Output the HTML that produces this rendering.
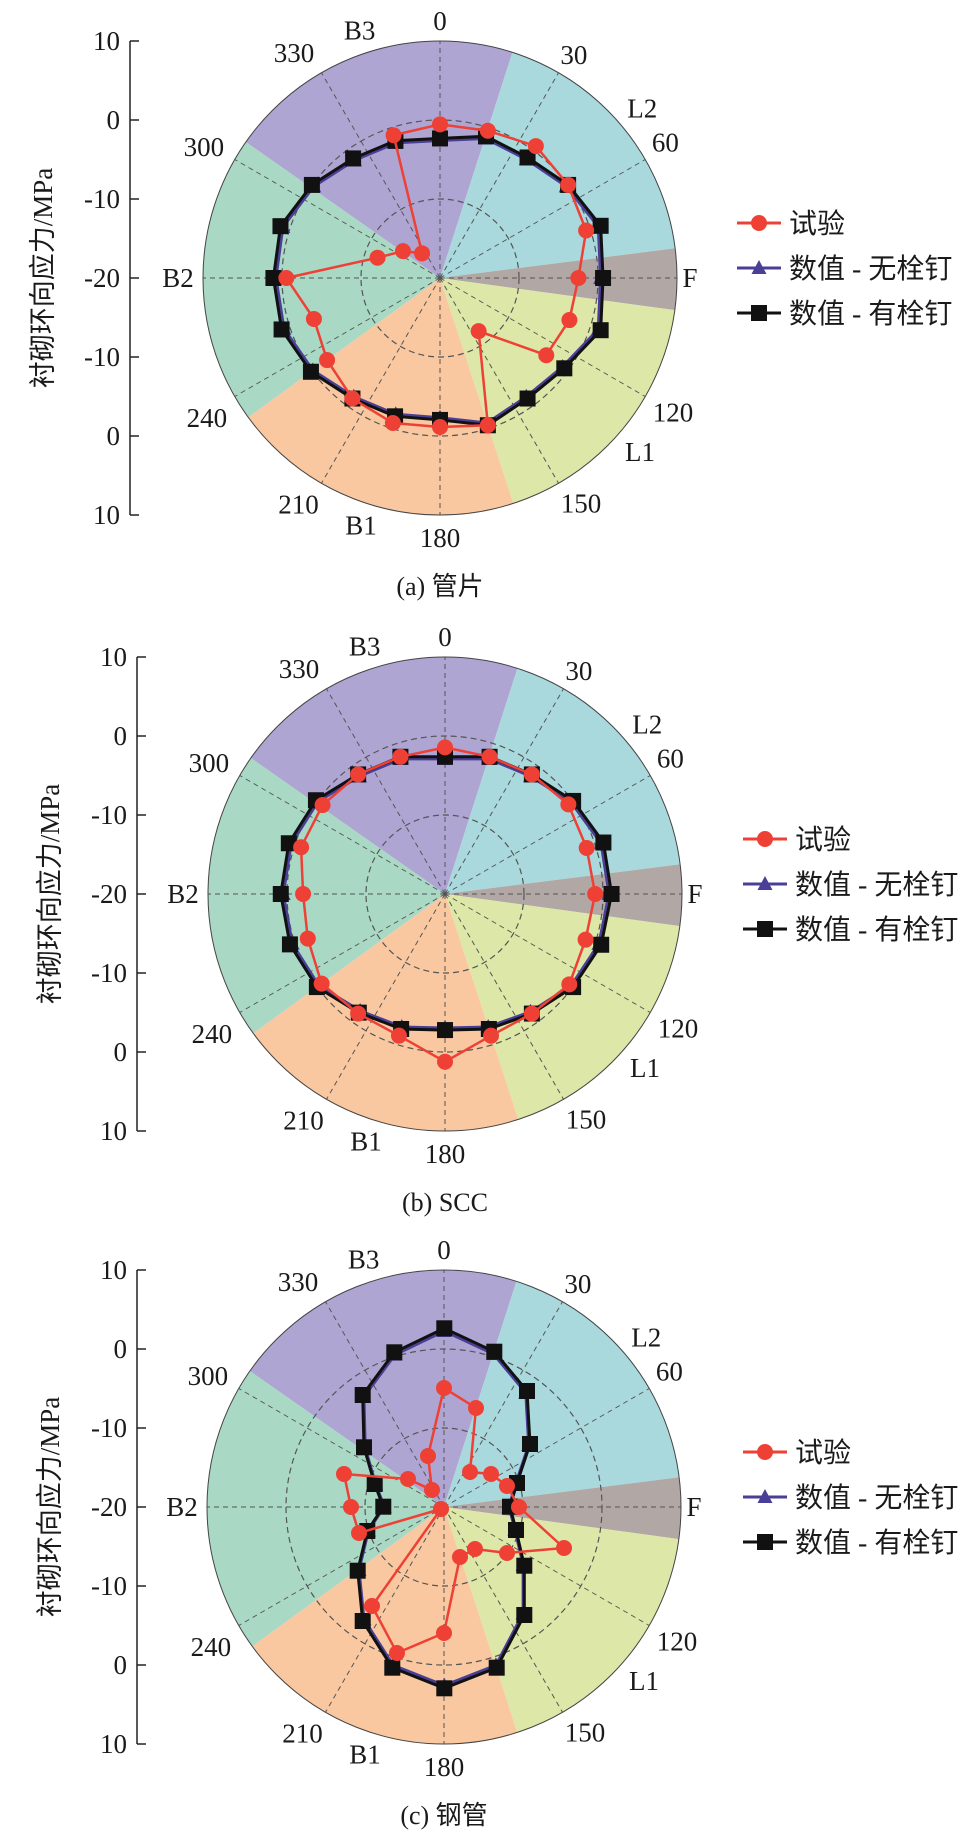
<!DOCTYPE html>
<html><head><meta charset="utf-8"><style>
html,body{margin:0;padding:0;background:#fff;}
svg text{font-family:"Liberation Serif","Noto Serif CJK SC",serif;fill:#1a1a1a;}
.cj{font-family:"Liberation Serif","Noto Sans CJK SC",sans-serif;}
</style></head><body>
<svg id="s" xmlns="http://www.w3.org/2000/svg" width="976" height="1834" viewBox="0 0 976 1834"></svg>
<script>
const S=document.getElementById('s');let h='';
const K=1.173;
function P(cx,cy,r,a){const t=a*Math.PI/180;return [cx+r*Math.sin(t),cy-r*Math.cos(t)];}
function chart(cx,cy,ax,black,red,blue,lblName,cap,legx){
  const R=237;
  const sec=[[305,377.8,'#afa5d3'],[17.8,82.8,'#a9d9dc'],[82.8,97.8,'#b1a7a5'],[97.8,162,'#dde7a8'],[162,234,'#f9c8a0'],[234,305,'#a9d8c4']];
  for(const [a1,a2,c] of sec){const p1=P(cx,cy,R,a1),p2=P(cx,cy,R,a2);
    h+=`<path d="M${cx},${cy}L${p1[0]},${p1[1]}A${R},${R} 0 0 1 ${p2[0]},${p2[1]}Z" fill="${c}"/>`;}
  for(let a=0;a<360;a+=30){const p=P(cx,cy,R,a);h+=`<line x1="${cx}" y1="${cy}" x2="${p[0]}" y2="${p[1]}" stroke="#555" stroke-width="1" stroke-dasharray="5,4"/>`;}
  for(const r of [79,158])h+=`<circle cx="${cx}" cy="${cy}" r="${r}" fill="none" stroke="#555" stroke-width="1.2" stroke-dasharray="6,4"/>`;
  h+=`<circle cx="${cx}" cy="${cy}" r="${R}" fill="none" stroke="#444" stroke-width="1"/>`;
  // angle labels
  const L=[[0,'0',257],[31,'30',260],[50,'L2',264],[59,'60',263],[90,'F',250],[120,'120',269],[131,'L1',265],[148,'150',266],[180,'180',260],[197.7,'B1',260],[212,'210',267],[239,'240',272],[270,'B2',262],[299,'300',270],[327,'330',268],[342,'B3',260]];
  for(const [a,t,r] of L){const p=P(cx,cy,r,a);h+=`<text x="${p[0]}" y="${p[1]+9}" font-size="27" text-anchor="middle">${t}</text>`;}
  // axis
  h+=`<line x1="${ax}" y1="${cy-R}" x2="${ax}" y2="${cy+R}" stroke="#222" stroke-width="1.5"/>`;
  const tv=['10','0','-10','-20','-10','0','10'];
  tv.forEach((t,i)=>{const y=cy-R+i*79;h+=`<line x1="${ax}" y1="${y}" x2="${ax+9}" y2="${y}" stroke="#222" stroke-width="1.5"/><text x="${ax-10}" y="${y+9}" font-size="27" text-anchor="end">${t}</text>`;});
  h+=`<text class="cj" transform="translate(${ax-78},${cy}) rotate(-90)" font-size="27" text-anchor="middle">衬砌环向应力/MPa</text>`;
  const pl=pts=>pts.map(p=>p.join(',')).join(' ');
  h+=`<polygon points="${pl(blue)}" fill="none" stroke="#4a3f96" stroke-width="3"/>`;
  for(const p of blue)h+=`<path d="M${p[0]},${p[1]-8}L${p[0]+7.5},${p[1]+6}L${p[0]-7.5},${p[1]+6}Z" fill="#4a3f96"/>`;
  h+=`<polygon points="${pl(black)}" fill="none" stroke="#111" stroke-width="3"/>`;
  for(const p of black)h+=`<rect x="${p[0]-8}" y="${p[1]-8}" width="16" height="16" fill="#111"/>`;
  h+=`<polygon points="${pl(red)}" fill="none" stroke="#ee4035" stroke-width="2.5"/>`;
  for(const p of red)h+=`<circle cx="${p[0]}" cy="${p[1]}" r="8" fill="#ee4035"/>`;
  // legend
  const ly=[cy-55,cy-10,cy+35];
  h+=`<line x1="${legx}" y1="${ly[0]}" x2="${legx+44}" y2="${ly[0]}" stroke="#ee4035" stroke-width="3"/><circle cx="${legx+22}" cy="${ly[0]}" r="8" fill="#ee4035"/>`;
  h+=`<line x1="${legx}" y1="${ly[1]}" x2="${legx+44}" y2="${ly[1]}" stroke="#4a3f96" stroke-width="3"/><path d="M${legx+22},${ly[1]-8}L${legx+29.5},${ly[1]+6}L${legx+14.5},${ly[1]+6}Z" fill="#4a3f96"/>`;
  h+=`<line x1="${legx}" y1="${ly[2]}" x2="${legx+44}" y2="${ly[2]}" stroke="#111" stroke-width="3"/><rect x="${legx+14}" y="${ly[2]-8}" width="16" height="16" fill="#111"/>`;
  const lt=['试验','数值 - 无栓钉','数值 - 有栓钉'];
  lt.forEach((t,i)=>h+=`<text class="cj" x="${legx+52}" y="${ly[i]+10}" font-size="28">${t}</text>`);
  h+=`<text class="cj" x="${cx}" y="${cy+317}" font-size="26" text-anchor="middle">${cap}</text>`;
}
function fromR(cx,cy,arr){return arr.map((r,i)=>P(cx,cy,r*K,i*18));}
function shrink(cx,cy,pts,f){return pts.map(p=>[cx+(p[0]-cx)*f,cy+(p[1]-cy)*f]);}
// chart a
{const cx=440,cy=278;
 const bk=fromR(cx,cy,[119,127,127,135,144,139,144,131,127,132,121,124,127,136,142,142,143,135,126,123]);
 const rd=fromR(cx,cy,[131,132,139,135,131,118,116,112,56,132,127,130,127,119,113,131,56,39,26,128]);
 chart(cx,cy,130,bk,rd,shrink(cx,cy,bk,0.985),'','(a) 管片',737);}
// chart b
{const cx=445,cy=894;
 const bk=fromR(cx,cy,[117,123,126,135,142,142,140,135,126,121,116,121,125,135,139,140,140,136,126,123]);
 const rd=fromR(cx,cy,[125,123,126,130,127,128,126,131,126,127,143,127,126,130,123,121,129,129,126,123]);
 chart(cx,cy,137,bk,rd,shrink(cx,cy,bk,0.985),'','(b) SCC',743);}
// chart c
{const cx=444,cy=1507;
 const bk=[[444.3,1328.3],[494.3,1351.7],[527,1391],[530,1444],[517,1483],[510,1506.7],[516,1530],[524.3,1565.7],[524.3,1615],[496.7,1667.7],[444.3,1688.3],[392.3,1667.7],[362.7,1621],[357.7,1570.7],[367.3,1531],[383.3,1506.7],[374.7,1484],[364,1447.3],[362.7,1395],[394.3,1352.3]];
 const rd=[[444,1388],[476,1408],[470,1472],[491,1474],[507,1486],[519,1507],[564,1548],[507,1553],[475,1549],[460,1557],[444,1633],[397,1653],[372,1606],[441,1509],[359,1533],[351,1507],[344,1474],[408,1479],[432,1490],[428,1456]];
 chart(cx,cy,137,bk,rd,shrink(cx,cy,bk,0.985),'','(c) 钢管',743);}
S.innerHTML=h;
</script>
</body></html>
